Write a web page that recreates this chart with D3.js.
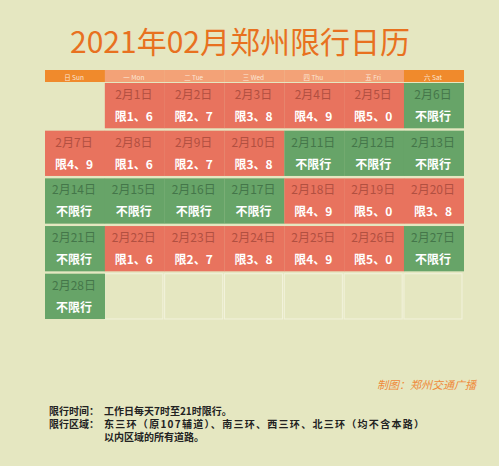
<!DOCTYPE html>
<html><head><meta charset="utf-8">
<script src="https://cdn.jsdelivr.net/npm/d3@7"></script>
<style>body{margin:0;background:#e5e7c1;}svg{display:block;font-family:"Noto Sans CJK SC",sans-serif;}</style>
</head><body><svg id="c" width="499" height="466"></svg>
<script>
var weekdays = ["日 Sun","一 Mon","二 Tue","三 Wed","四 Thu","五 Fri","六 Sat"];
var days = [1,2,3,4,5,6,7,8,9,10,11,12,13,14,15,16,17,18,19,20,21,22,23,24,25,26,27,28];
var rules = ["限1、6","限2、7","限3、8","限4、9","限5、0","不限行",
  "限4、9","限1、6","限2、7","限3、8","不限行","不限行","不限行",
  "不限行","不限行","不限行","不限行","限4、9","限5、0","限3、8",
  "不限行","限1、6","限2、7","限3、8","限4、9","限5、0","不限行","不限行"];
var firstCol = 1;

var svg = d3.select("#c");
var x = d3.scaleBand().domain(d3.range(7)).range([45,462]).paddingInner(0.03);
var y = d3.scaleBand().domain(d3.range(5)).range([83,319]).paddingInner(0.05);

svg.append("text").attr("x",240).attr("y",53).attr("text-anchor","middle")
  .attr("font-size",30).attr("fill","#e8711f").text("2021年02月郑州限行日历");

// header
svg.selectAll(".hd").data(weekdays).join("rect")
  .attr("x",(d,i)=>x(i)).attr("y",70).attr("width",x.bandwidth()+2).attr("height",12)
  .attr("fill",(d,i)=>i==0||i==6?"#f08a2c":"#f3a277");
svg.selectAll(".ht").data(weekdays).join("text")
  .attr("x",(d,i)=>x(i)+x.bandwidth()/2).attr("y",79.5).attr("text-anchor","middle")
  .attr("font-size",6.5).attr("fill","#fbe6d6").text(d=>d);

// empty cells in last week
var empty = d3.range(firstCol+days.length,35);
svg.selectAll(".em").data(empty).join("rect")
  .attr("x",k=>x(k%7)).attr("y",k=>y(Math.floor(k/7))).attr("width",x.bandwidth()).attr("height",y.bandwidth())
  .attr("fill","none").attr("stroke","#f2f2dc").attr("stroke-width",1);

var cells = days.map((d,i)=>({d:d,r:rules[i],k:i+firstCol}));
var g = svg.selectAll(".cell").data(cells).join("g")
  .attr("transform",c=>"translate("+x(c.k%7)+","+y(Math.floor(c.k/7))+")");
g.append("rect").attr("width",x.bandwidth()+2).attr("height",y.bandwidth())
  .attr("fill",c=>c.r=="不限行"?"#67a468":"#e8735e");
g.append("text").attr("x",x.bandwidth()/2).attr("y",16).attr("text-anchor","middle")
  .attr("font-size",12).attr("fill",c=>c.r=="不限行"?"#3f6f45":"#a84a3c").attr("opacity",0.85)
  .text(c=>"2月"+c.d+"日");
g.append("text").attr("x",x.bandwidth()/2).attr("y",38).attr("text-anchor","middle")
  .attr("font-size",12).attr("font-weight","bold").attr("fill","#fff")
  .text(c=>c.r);

svg.append("text").attr("x",476).attr("y",389).attr("text-anchor","end")
  .attr("font-size",11).attr("fill","#ef8a3a").attr("font-style","italic").text("制图：郑州交通广播");
var notes = [["限行时间：","工作日每天7时至21时限行。"],["限行区域：","东三环（原107辅道）、南三环、西三环、北三环（均不含本路）"],["","以内区域的所有道路。"]];
notes.forEach(function(n,i){
  svg.append("text").attr("x",49).attr("y",415+i*13).attr("font-size",10).attr("font-weight","bold").attr("fill","#222").text(n[0]);
  svg.append("text").attr("x",104).attr("y",415+i*13).attr("font-size",10).attr("font-weight","bold").attr("fill","#222")
    .attr("textLength",i==1?320:null).text(n[1]);
});
</script></body></html>
